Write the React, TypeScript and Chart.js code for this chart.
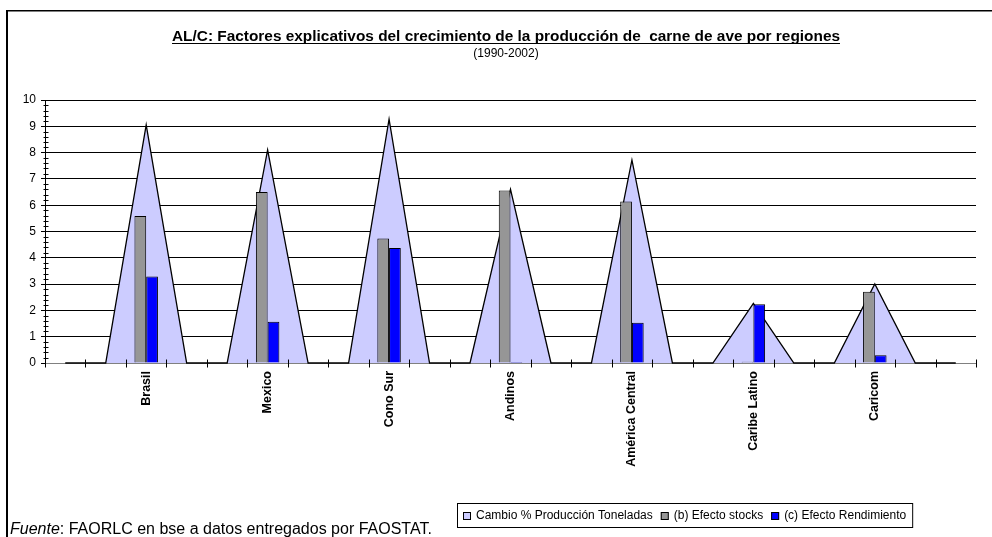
import React, { useEffect, useRef } from "react";
import { Chart, registerables } from "chart.js";

Chart.register(...registerables);

const FONT = "'Liberation Sans', Arial, sans-serif";

// Regions (each region sits between blank slots, as in the original worksheet)
const regions = ["Brasil", "Mexico", "Cono Sur", "Andinos", "América Central", "Caribe Latino", "Caricom"];
const cambioProduccion = [9.05, 8.1, 9.27, 6.6, 7.72, 2.27, 3.01];
const efectoStocks = [5.59, 6.5, 4.73, 6.56, 6.14, 0.05, 2.71];
const efectoRendimiento = [3.29, 1.57, 4.37, 0.04, 1.53, 2.23, 0.29];
const yTicks = [0, 1, 2, 3, 4, 5, 6, 7, 8, 9, 10];

const seriesLabels = ["Cambio % Producción Toneladas", "(b) Efecto stocks", "(c) Efecto Rendimiento"];
const seriesColors = ["#CCCCFF", "#969696", "#0000FF"];

const titleText = "AL/C: Factores explicativos del crecimiento de la producción de  carne de ave por regiones";
const subtitleText = "(1990-2002)";
const sourceItalic = "Fuente";
const sourceRest = ": FAORLC en bse a datos entregados por FAOSTAT.";

// Build the padded category layout: 2 blanks, region, 2 blanks, region, ... , 2 blanks
function padded<T>(vals: T[], blank: T): T[] {
  const out: T[] = [blank, blank];
  vals.forEach((v) => {
    out.push(v);
    out.push(blank, blank);
  });
  return out;
}

const categories = padded(regions, "");
const areaData = padded(cambioProduccion, 0 as number);
const stocksData = padded(efectoStocks as (number | null)[], null);
const rendData = padded(efectoRendimiento as (number | null)[], null);

const decorPlugin = {
  id: "decor",
  afterDatasetsDraw(chart: any) {
    const { ctx } = chart;
    const x = chart.scales.x;
    const y = chart.scales.y;
    ctx.save();
    ctx.strokeStyle = "#000";
    ctx.lineWidth = 1;
    // x tick marks at category boundaries, crossing the axis
    const n = chart.data.labels.length;
    const y0 = Math.round(y.getPixelForValue(0)) + 0.5;
    ctx.beginPath();
    for (let i = 0; i <= n; i++) {
      let px: number;
      if (i === 0) px = x.left;
      else if (i === n) px = x.right;
      else px = (x.getPixelForValue(i - 1) + x.getPixelForValue(i)) / 2;
      px = Math.round(px) + 0.5;
      ctx.moveTo(px, y0 - 4);
      ctx.lineTo(px, y0 + 4);
    }
    ctx.stroke();
    // y minor ticks
    ctx.beginPath();
    const ax = Math.round(x.left) + 0.5;
    for (let k = 1; k < 50; k++) {
      if (k % 5 === 0) continue;
      const py = Math.round(y.getPixelForValue(k / 5)) + 0.5;
      ctx.moveTo(ax - 2, py);
      ctx.lineTo(ax + 3, py);
    }
    ctx.stroke();
    ctx.restore();
  },
  afterDraw(chart: any) {
    const { ctx } = chart;
    ctx.save();
    // outer frame (left and top edges only are visible)
    ctx.fillStyle = "#000";
    ctx.fillRect(6, 10, 2, 600);
    ctx.fillRect(6, 10, 990, 1.5);

    // title
    const cx = 506;
    ctx.font = `bold 15.4px ${FONT}`;
    ctx.textAlign = "center";
    ctx.textBaseline = "alphabetic";
    ctx.fillStyle = "#000";
    ctx.fillText(titleText, cx, 41);
    const tw = ctx.measureText(titleText).width;
    ctx.fillRect(cx - tw / 2, 43, tw, 1);
    ctx.font = `12px ${FONT}`;
    ctx.fillText(subtitleText, cx, 57);

    // source
    ctx.textAlign = "left";
    ctx.font = `italic 16px ${FONT}`;
    ctx.fillText(sourceItalic, 10, 534);
    const iw = ctx.measureText(sourceItalic).width;
    ctx.font = `16px ${FONT}`;
    ctx.fillText(sourceRest, 10 + iw, 534);

    // legend
    ctx.font = `12px ${FONT}`;
    const sq = 8;
    const gapSqText = 5;
    const gapItems = 8;
    let content = 0;
    const widths = seriesLabels.map((l) => ctx.measureText(l).width);
    widths.forEach((w, i) => {
      content += sq + gapSqText + w + (i < widths.length - 1 ? gapItems : 0);
    });
    const boxL = 457;
    const boxT = 503;
    const boxH = 24;
    const boxW = content + 12;
    ctx.fillStyle = "#fff";
    ctx.fillRect(boxL, boxT, boxW, boxH);
    ctx.strokeStyle = "#000";
    ctx.lineWidth = 1;
    ctx.strokeRect(boxL + 0.5, boxT + 0.5, boxW, boxH);
    let lx = boxL + 6;
    const midY = boxT + boxH / 2 + 0.5;
    ctx.textBaseline = "middle";
    seriesLabels.forEach((l, i) => {
      const sy = Math.round(midY - sq / 2);
      ctx.fillStyle = seriesColors[i];
      ctx.fillRect(lx, sy, sq, sq);
      ctx.strokeStyle = "#000";
      ctx.strokeRect(lx + 0.5, sy + 0.5, sq - 1, sq - 1);
      lx += sq + gapSqText;
      ctx.fillStyle = "#000";
      ctx.fillText(l, lx, midY);
      lx += widths[i] + gapItems;
    });
    ctx.restore();
  },
};

export default function App() {
  const ref = useRef<HTMLCanvasElement | null>(null);
  useEffect(() => {
    if (!ref.current) return;
    const chart = new Chart(ref.current, {
      type: "bar",
      data: {
        labels: categories,
        datasets: [
          {
            type: "line",
            label: seriesLabels[0],
            data: areaData,
            fill: "origin",
            backgroundColor: seriesColors[0],
            borderColor: "#000",
            borderWidth: 1.3,
            pointRadius: 0,
            tension: 0,
            clip: 4,
            order: 2,
          } as any,
          {
            type: "bar",
            label: seriesLabels[1],
            data: stocksData,
            backgroundColor: seriesColors[1],
            borderColor: "#000",
            borderWidth: 1,
            categoryPercentage: 0.58,
            barPercentage: 1,
            order: 1,
          },
          {
            type: "bar",
            label: seriesLabels[2],
            data: rendData,
            backgroundColor: seriesColors[2],
            borderColor: "#000",
            borderWidth: 1,
            categoryPercentage: 0.58,
            barPercentage: 1,
            order: 1,
          },
        ],
      },
      options: {
        animation: false,
        responsive: false,
        maintainAspectRatio: false,
        layout: { padding: { left: 0, right: 16, top: 100, bottom: 0 } },
        plugins: {
          legend: { display: false },
          title: { display: false },
          tooltip: { enabled: false },
        },
        scales: {
          x: {
            type: "category",
            offset: true,
            grid: { display: false, drawTicks: false, tickLength: 0 },
            border: { display: true, color: "#808080", width: 1 },
            ticks: {
              autoSkip: false,
              minRotation: 90,
              maxRotation: 90,
              padding: 8,
              color: "#000",
              font: { family: FONT, size: 12.5, weight: "bold" },
            },
            afterFit(s: any) {
              s.height = 174;
            },
          },
          y: {
            min: 0,
            max: 10,
            afterBuildTicks(s: any) {
              s.ticks = yTicks.map((v) => ({ value: v }));
            },
            ticks: {
              padding: 5,
              color: "#000",
              font: { family: FONT, size: 12 },
            },
            grid: {
              color: (c: any) => (c.tick && c.tick.value === 0 ? "rgba(0,0,0,0)" : "#000"),
              tickColor: "#000",
              tickLength: 4,
              lineWidth: 1,
            },
            border: { display: true, color: "#000", width: 1 },
            afterFit(s: any) {
              s.width = 45;
            },
          },
        },
      },
      plugins: [decorPlugin],
    });
    return () => chart.destroy();
  }, []);
  return (
    <div style={{ position: "fixed", left: 0, top: 0, width: 992, height: 537, background: "#fff", overflow: "hidden" }}>
      <canvas ref={ref} width={992} height={537} style={{ display: "block" }} />
    </div>
  );
}
